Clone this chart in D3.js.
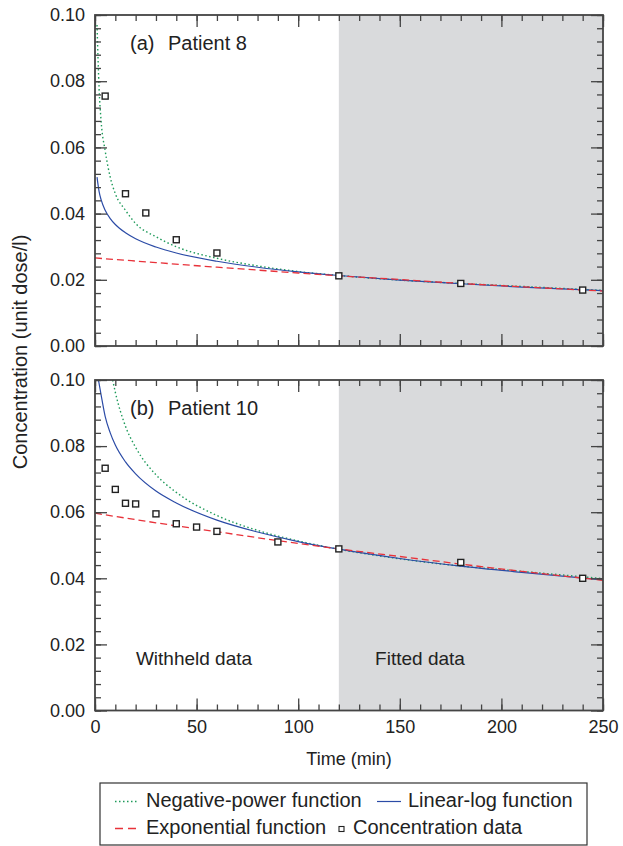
<!DOCTYPE html>
<html>
<head>
<meta charset="utf-8">
<script src="https://cdn.jsdelivr.net/npm/d3@7"></script>
<style>
  body { margin: 0; background: #fff; }
  text { font-family: "Liberation Sans", Arial, sans-serif; fill: #222; }
</style>
</head>
<body>
<svg id="chart" width="623" height="846"></svg>
<script>
// Patient 8 (panel a) - measured concentrations
var timeA = [5, 15, 25, 40, 60, 120, 180, 240]
var concA = [0.0755, 0.046, 0.0402, 0.0321, 0.0281, 0.0212, 0.0189, 0.0169]
// fitted curves
var negPowA_t = [1, 2, 3, 5, 7.5, 10, 15, 20, 30, 40, 60, 80, 100, 120, 150, 180, 210, 250]
var negPowA = [0.097, 0.078, 0.068, 0.059, 0.051, 0.046, 0.041, 0.037, 0.033, 0.030, 0.0265, 0.0242, 0.0225, 0.0213, 0.0199, 0.0189, 0.0180, 0.0168]
var linLogA_t = [1, 2, 3, 5, 7.5, 10, 15, 20, 30, 40, 60, 80, 100, 120, 150, 180, 210, 250]
var linLogA = [0.051, 0.0467, 0.0442, 0.041, 0.0385, 0.0367, 0.0342, 0.0324, 0.0299, 0.0281, 0.0256, 0.0238, 0.0224, 0.0213, 0.0199, 0.0188, 0.0178, 0.0167]
var expA_t = [0, 30, 60, 90, 120, 150, 180, 210, 250]
var expA = [0.0266, 0.0252, 0.0238, 0.0225, 0.0212, 0.0201, 0.0189, 0.0179, 0.0166]

// Patient 10 (panel b)
var timeB = [5, 10, 15, 20, 30, 40, 50, 60, 90, 120, 180, 240]
var concB = [0.0733, 0.0669, 0.0627, 0.0625, 0.0595, 0.0565, 0.0555, 0.0542, 0.051, 0.0489, 0.0448, 0.0400]
var negPowB_t = [8.7, 10, 15, 20, 30, 40, 60, 80, 100, 120, 150, 180, 210, 250]
var negPowB = [0.100, 0.0963, 0.0860, 0.0796, 0.0713, 0.0660, 0.0590, 0.0545, 0.0513, 0.0488, 0.0459, 0.0437, 0.0421, 0.0399]
var linLogB_t = [1.7, 3, 5, 7.5, 10, 15, 20, 30, 40, 60, 80, 100, 120, 150, 180, 210, 250]
var linLogB = [0.100, 0.0955, 0.089, 0.0840, 0.0803, 0.0752, 0.0716, 0.0664, 0.0628, 0.0576, 0.0540, 0.0511, 0.0488, 0.0460, 0.0437, 0.0418, 0.0395]
var expB_t = [0, 30, 60, 90, 120, 150, 180, 210, 250]
var expB = [0.0597, 0.0568, 0.0541, 0.0514, 0.0489, 0.0466, 0.0443, 0.0421, 0.0394]

var yTicks = [0, 0.02, 0.04, 0.06, 0.08, 0.10]
var xTicks = [0, 50, 100, 150, 200, 250]
var fitStart = 120

var svg = d3.select("#chart")
var axisColor = "#444"
var green = "#1e9a5a", blue = "#2b4ba6", red = "#e8323a"

var x = d3.scaleLinear().domain([0, 250]).range([95, 603])

var panels = [
  { tag: "(a)", name: "Patient 8", top: 15, bottom: 346, time: timeA, conc: concA,
    curves: [[negPowA_t, negPowA, "np"], [linLogA_t, linLogA, "ll"], [expA_t, expA, "ex"]] },
  { tag: "(b)", name: "Patient 10", top: 380, bottom: 710.5, time: timeB, conc: concB,
    curves: [[negPowB_t, negPowB, "np"], [linLogB_t, linLogB, "ll"], [expB_t, expB, "ex"]] }
]

var styles = {
  np: { color: green, dash: "1.5,2.5", width: 1.4 },
  ll: { color: blue, dash: null, width: 1.2 },
  ex: { color: red, dash: "7,4", width: 1.3 }
}

panels.forEach(function(p, pi) {
  var y = d3.scaleLinear().domain([0, 0.1]).range([p.bottom, p.top])
  var g = svg.append("g")
  var clipId = "clip" + pi
  g.append("clipPath").attr("id", clipId)
    .append("rect")
    .attr("x", x(0)).attr("y", p.top)
    .attr("width", x(250) - x(0)).attr("height", p.bottom - p.top)

  // shaded fitted region
  g.append("rect")
    .attr("x", x(fitStart)).attr("y", p.top)
    .attr("width", x(250) - x(fitStart)).attr("height", p.bottom - p.top)
    .attr("fill", "#d9dadc")

  // curves
  var plot = g.append("g").attr("clip-path", "url(#" + clipId + ")")
  p.curves.forEach(function(c) {
    var pts = c[0].map(function(t, i) { return [t, c[1][i]] })
    var st = styles[c[2]]
    plot.append("path")
      .datum(pts)
      .attr("fill", "none")
      .attr("stroke", st.color)
      .attr("stroke-width", st.width)
      .attr("stroke-dasharray", st.dash)
      .attr("d", d3.line()
        .curve(d3.curveMonotoneX)
        .x(function(d) { return x(d[0]) })
        .y(function(d) { return y(d[1]) }))
  })

  // data squares
  g.selectAll(".pt")
    .data(p.time.map(function(t, i) { return [t, p.conc[i]] }))
    .enter().append("rect")
    .attr("x", function(d) { return x(d[0]) - 3 })
    .attr("y", function(d) { return y(d[1]) - 3 })
    .attr("width", 6).attr("height", 6)
    .attr("fill", "#fff")
    .attr("stroke", "#222")
    .attr("stroke-width", 1.4)

  // ticks: major + minor, inward, all four sides
  var xMinor = d3.range(0, 251, 10)
  var yMinor = d3.range(0, 0.1001, 0.004)
  var h = p.bottom - p.top
  g.append("g").attr("transform", "translate(0," + p.bottom + ")")
    .call(d3.axisBottom(x).tickValues(xMinor).tickSize(-6).tickFormat(""))
  g.append("g").attr("transform", "translate(0," + p.bottom + ")")
    .call(d3.axisBottom(x).tickValues(xTicks).tickSize(-12).tickPadding(10)
      .tickFormat(pi === 1 ? d3.format("d") : ""))
  g.append("g").attr("transform", "translate(0," + p.top + ")")
    .call(d3.axisTop(x).tickValues(xMinor).tickSize(-6).tickFormat(""))
  g.append("g").attr("transform", "translate(0," + p.top + ")")
    .call(d3.axisTop(x).tickValues(xTicks).tickSize(-12).tickFormat(""))
  g.append("g").attr("transform", "translate(" + x(0) + ",0)")
    .call(d3.axisLeft(y).tickValues(yMinor).tickSize(-6).tickFormat(""))
  g.append("g").attr("transform", "translate(" + x(0) + ",0)")
    .call(d3.axisLeft(y).tickValues(yTicks).tickSize(-12).tickPadding(10)
      .tickFormat(d3.format(".2f")))
  g.append("g").attr("transform", "translate(" + x(250) + ",0)")
    .call(d3.axisRight(y).tickValues(yMinor).tickSize(-6).tickFormat(""))
  g.append("g").attr("transform", "translate(" + x(250) + ",0)")
    .call(d3.axisRight(y).tickValues(yTicks).tickSize(-12).tickFormat(""))

  g.selectAll(".domain").remove()
  g.selectAll(".tick line").attr("stroke", axisColor).attr("stroke-width", 1.3)
  g.selectAll(".tick text")
    .attr("font-family", "'Liberation Sans', Arial, sans-serif")
    .attr("font-size", 18).attr("fill", "#222")

  // frame
  g.append("rect")
    .attr("x", x(0)).attr("y", p.top)
    .attr("width", x(250) - x(0)).attr("height", h)
    .attr("fill", "none").attr("stroke", axisColor).attr("stroke-width", 1.8)

  g.append("text")
    .attr("x", 130).attr("y", p.top + 35)
    .style("font-size", "20px")
    .text(p.tag)
  g.append("text")
    .attr("x", 168).attr("y", p.top + 35)
    .style("font-size", "20px")
    .text(p.name)
})

// region labels in panel b
svg.append("text").attr("x", 194).attr("y", 665).attr("text-anchor", "middle")
  .style("font-size", "19px").text("Withheld data")
svg.append("text").attr("x", 420).attr("y", 665).attr("text-anchor", "middle")
  .style("font-size", "19px").text("Fitted data")

// axis titles
svg.append("text").attr("x", 349).attr("y", 765).attr("text-anchor", "middle")
  .style("font-size", "18px").text("Time (min)")
svg.append("text")
  .attr("transform", "translate(27,352) rotate(-90)")
  .attr("text-anchor", "middle")
  .style("font-size", "20px").text("Concentration (unit dose/l)")

// legend
var legend = svg.append("g")
legend.append("rect").attr("x", 100).attr("y", 783).attr("width", 487).attr("height", 62)
  .attr("fill", "#fff").attr("stroke", "#333").attr("stroke-width", 1.2)

var legendItems = [
  { key: "np", label: "Negative-power function", x: 115, y: 807 },
  { key: "ll", label: "Linear-log function", x: 377, y: 807 },
  { key: "ex", label: "Exponential function", x: 115, y: 834 },
  { key: "pt", label: "Concentration data", x: 339, y: 834 }
]
legendItems.forEach(function(d) {
  if (d.key === "pt") {
    legend.append("rect").attr("x", d.x).attr("y", d.y - 7.5).attr("width", 5).attr("height", 5)
      .attr("fill", "#fff").attr("stroke", "#222").attr("stroke-width", 1.1)
    legend.append("text").attr("x", d.x + 14).attr("y", d.y).style("font-size", "20px").text(d.label)
  } else {
    var st = styles[d.key]
    legend.append("line").attr("x1", d.x).attr("x2", d.x + 24).attr("y1", d.y - 5.5).attr("y2", d.y - 5.5)
      .attr("stroke", st.color).attr("stroke-width", st.width)
      .attr("stroke-dasharray", d.key === "ex" ? "8,5" : st.dash)
    legend.append("text").attr("x", d.x + 31).attr("y", d.y).style("font-size", "20px").text(d.label)
  }
})
</script>
</body>
</html>
